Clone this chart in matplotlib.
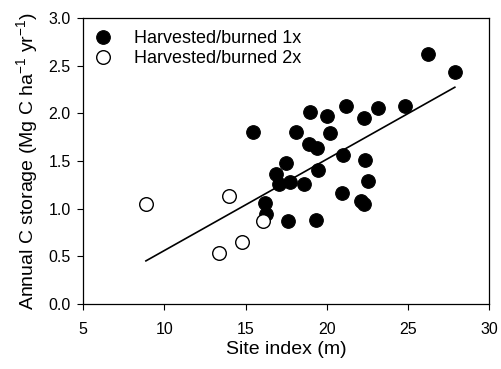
import numpy as np
import matplotlib
matplotlib.use("Agg")
import matplotlib.pyplot as plt

plt.rcParams['font.family'] = ['Liberation Sans', 'DejaVu Sans']
plt.rcParams['mathtext.fontset'] = 'custom'
plt.rcParams['mathtext.rm'] = 'Liberation Sans'

# Harvested/burned 1x (filled)
x1 = [15.49, 18.08, 18.94, 20.01, 21.18, 22.29, 23.17, 24.84, 26.26, 27.88,
      20.19, 18.88, 19.41, 20.97, 22.35, 17.50, 19.47, 16.90, 17.05, 17.73,
      18.61, 22.54, 20.95, 22.13, 22.27, 16.20, 16.29, 17.62, 19.35]
y1 = [1.80, 1.81, 2.02, 1.97, 2.08, 1.95, 2.06, 2.08, 2.63, 2.44,
      1.79, 1.68, 1.64, 1.56, 1.51, 1.48, 1.41, 1.36, 1.26, 1.28,
      1.26, 1.29, 1.16, 1.08, 1.05, 1.06, 0.94, 0.87, 0.88]
# Harvested/burned 2x (open)
x2 = [8.87, 14.00, 13.35, 14.77, 16.06]
y2 = [1.05, 1.13, 0.53, 0.65, 0.87]

# regression line as drawn in the figure
fit_slope = 0.0960
fit_intercept = -0.401

label1 = "Harvested/burned 1x"
label2 = "Harvested/burned 2x"
xticks = [5, 10, 15, 20, 25, 30]
yticks = [0.0, 0.5, 1.0, 1.5, 2.0, 2.5, 3.0]

fig = plt.figure(figsize=(5.01, 3.69), dpi=100)
ax = fig.add_axes([0.1657, 0.1768, 0.8109, 0.7736])

xa = np.array(x1 + x2)
xl = np.array([xa.min(), xa.max()])
ax.plot(xl, fit_slope * xl + fit_intercept, color='black', lw=1.2, zorder=1)

ax.plot(x1, y1, 'o', ms=9.8, mfc='black', mec='black', mew=0.8, label=label1, zorder=3)
ax.plot(x2, y2, 'o', ms=9.8, mfc='white', mec='black', mew=1.0, label=label2, zorder=3)

ax.set_xlim(5, 30)
ax.set_ylim(0, 3.0)
ax.set_xticks(xticks)
ax.set_yticks(yticks)
ax.set_yticklabels([f"{v:.1f}" for v in yticks])
ax.tick_params(direction='out', length=4, width=0.8, labelsize=11.5)
ax.tick_params(axis='x', pad=9)
ax.tick_params(axis='y', pad=5)
for s in ax.spines.values():
    s.set_linewidth(0.9)

ax.set_xlabel("Site index (m)", fontsize=14, labelpad=3)
ax.set_ylabel("Annual C storage (Mg C ha$^{-1}$ yr$^{-1}$)", fontsize=14, labelpad=5)

leg = ax.legend(loc='upper left', frameon=False, fontsize=13, handletextpad=1.22,
                borderaxespad=0.61, borderpad=0, labelspacing=0.15, handlelength=1.0,
                bbox_to_anchor=(0.0, 0.996))

fig.savefig("out.png", dpi=100)
